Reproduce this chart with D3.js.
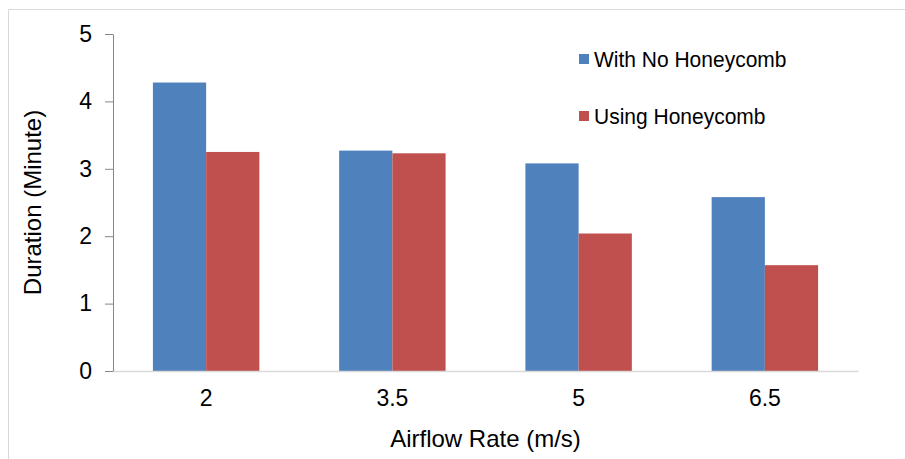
<!DOCTYPE html>
<html>
<head>
<meta charset="utf-8">
<script src="https://cdn.jsdelivr.net/npm/d3@7"></script>
<style>
  html, body { margin: 0; padding: 0; background: #fff; }
  svg { display: block; font-family: "Liberation Sans", Arial, sans-serif; }
</style>
</head>
<body>
<svg id="chart" width="905" height="459"></svg>
<script>
// Airflow rates on the x axis
const categories = ["2", "3.5", "5", "6.5"];
// Duration in minutes for each configuration
const noHoneycomb = [4.28, 3.27, 3.08, 2.58];
const withHoneycomb = [3.25, 3.23, 2.04, 1.57];
const seriesNames = ["With No Honeycomb", "Using Honeycomb"];
const seriesColors = ["#4f81bd", "#c0504d"];
const yTicks = [0, 1, 2, 3, 4, 5];

const svg = d3.select("#chart");
const margin = { left: 113, right: 47, top: 34, bottom: 88 };
const W = 905, H = 459;
const FONT = "Liberation Sans, Arial, sans-serif";

// Outer chart frame
svg.append("path")
  .attr("d", `M8.5,${H} V9.5 H${W}`)
  .attr("fill", "none")
  .attr("stroke", "#d9d9d9")
  .attr("stroke-width", 1);

const x0 = d3.scaleBand()
  .domain(categories)
  .range([margin.left, W - margin.right])
  .paddingInner(0.4285)
  .paddingOuter(0.2143);

const x1 = d3.scaleBand()
  .domain([0, 1])
  .range([0, x0.bandwidth()]);

const y = d3.scaleLinear()
  .domain([0, 5])
  .range([H - margin.bottom, margin.top]);

const rows = categories.map((c, i) => ({ cat: c, vals: [noHoneycomb[i], withHoneycomb[i]] }));

// Bars
const groups = svg.append("g").selectAll("g")
  .data(rows)
  .join("g")
  .attr("transform", d => `translate(${x0(d.cat)},0)`);

groups.selectAll("rect")
  .data(d => d.vals.map((v, k) => ({ v, k })))
  .join("rect")
  .attr("x", d => x1(d.k))
  .attr("width", x1.bandwidth())
  .attr("y", d => y(d.v))
  .attr("height", d => y(0) - y(d.v))
  .attr("fill", d => seriesColors[d.k]);

// X axis baseline
const xAxis = svg.append("g")
  .attr("transform", `translate(0,${y(0)})`)
  .call(d3.axisBottom(x0).tickSize(0).tickSizeOuter(0).tickPadding(19));
xAxis.select(".domain").attr("stroke", "#d9d9d9").attr("stroke-width", 1.5);
xAxis.selectAll("text")
  .attr("font-size", 23)
  .attr("fill", "#000")
  .attr("font-family", FONT);

// Y axis
const yAxis = svg.append("g")
  .attr("transform", `translate(${margin.left},0)`)
  .call(d3.axisLeft(y).tickValues(yTicks).tickFormat(d3.format("d")).tickSize(8).tickSizeOuter(0).tickPadding(13));
yAxis.select(".domain").attr("stroke", "#868686");
yAxis.selectAll(".tick line").attr("stroke", "#868686");
yAxis.selectAll("text")
  .attr("font-size", 23)
  .attr("fill", "#000")
  .attr("font-family", FONT);

// Axis titles
svg.append("text")
  .attr("x", (margin.left + W - margin.right) / 2)
  .attr("y", 447)
  .attr("text-anchor", "middle")
  .attr("font-size", 24)
  .attr("fill", "#000")
  .text("Airflow Rate (m/s)");

svg.append("text")
  .attr("transform", `translate(41,${(y(0) + y(5)) / 2}) rotate(-90)`)
  .attr("text-anchor", "middle")
  .attr("font-size", 24)
  .attr("fill", "#000")
  .text("Duration (Minute)");

// Legend
const legend = svg.append("g").selectAll("g")
  .data(seriesNames)
  .join("g")
  .attr("transform", (d, i) => `translate(579,${59 + i * 57})`);
legend.append("rect")
  .attr("x", 0).attr("y", -5)
  .attr("width", 10).attr("height", 10)
  .attr("fill", (d, i) => seriesColors[i]);
legend.append("text")
  .attr("x", 15)
  .attr("transform", "scale(1,1.08)")
  .attr("dy", "0.36em")
  .attr("font-size", 21)
  .attr("fill", "#000")
  .text(d => d);
</script>
</body>
</html>
